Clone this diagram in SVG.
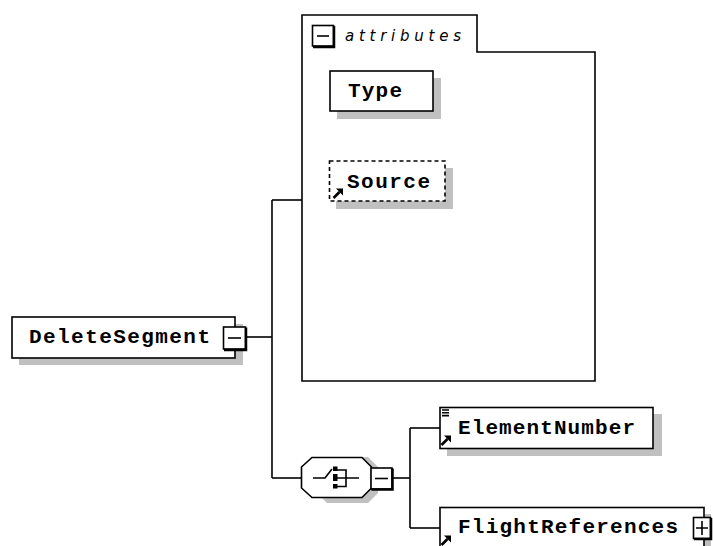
<svg xmlns="http://www.w3.org/2000/svg" width="713" height="546" viewBox="0 0 713 546">
<style>
.bg{fill:#ffffff}
.box{fill:#ffffff;stroke:#000;stroke-width:1.6}
.dash{fill:#ffffff;stroke:#000;stroke-width:1.6;stroke-dasharray:4,3}
.shadow{fill:#c0c0c0;stroke:none}
.lbl{font-family:"Liberation Mono","DejaVu Sans Mono",monospace;font-weight:bold;font-size:21px;fill:#000}
.attr{font-family:"DejaVu Sans","Liberation Sans",sans-serif;font-style:italic;font-size:15px;fill:#000}
.ln{fill:none;stroke:#000;stroke-width:1.6}
.btn{fill:#ffffff;stroke:#000;stroke-width:1.6}
.thick{fill:none;stroke:#000;stroke-width:2.5}
.ico{fill:#000;stroke:none}
.arr{fill:none;stroke:#000;stroke-width:2.6}
</style>
<defs>
<g id="arrowIcon">
<path d="M0.5,10 L6.5,4" class="arr"/>
<path d="M3,0.5 L10,0.5 L10,7.5 Z" class="ico"/>
</g>
</defs>
<rect class="bg" x="0" y="0" width="713" height="546"/>

<g id="connectors">
<path class="ln" d="M247,337 H272"/>
<path class="ln" d="M272,200 V478"/>
<path class="ln" d="M272,200 H302"/>
<path class="ln" d="M272,478 H301"/>
<path class="ln" d="M393,478 H410"/>
<path class="ln" d="M410,428 V528"/>
<path class="ln" d="M410,428 H440"/>
<path class="ln" d="M410,528 H440"/>
</g>

<g id="attributes">
<path class="box" d="M302,15 H477 V52 H595 V381 H302 Z"/>
<rect class="btn" x="312.5" y="25.5" width="21" height="20.5"/>
<path class="thick" d="M334,26 V47 H313"/>
<path class="ln" d="M317,36 H329"/>
<text class="attr" x="345" y="41" textLength="116" lengthAdjust="spacing">attributes</text>
</g>

<g id="Type">
<rect class="shadow" x="337" y="78" width="104" height="41"/>
<rect class="box" x="330" y="71" width="103" height="40"/>
<text class="lbl" x="348" y="97" textLength="54" lengthAdjust="spacing">Type</text>
</g>

<g id="Source">
<rect class="shadow" x="336" y="168" width="117" height="41"/>
<rect class="dash" x="329.5" y="161" width="115.5" height="40"/>
<use href="#arrowIcon" x="333" y="188"/>
<text class="lbl" x="347" y="188" textLength="83" lengthAdjust="spacing">Source</text>
</g>

<g id="DeleteSegment">
<rect class="shadow" x="19" y="324" width="224" height="41"/>
<rect class="box" x="12" y="317" width="223" height="41"/>
<text class="lbl" x="29" y="343" textLength="181" lengthAdjust="spacing">DeleteSegment</text>
<rect class="btn" x="223.5" y="327" width="22" height="22"/>
<path class="thick" d="M246,327.5 V350 H224"/>
<path class="ln" d="M228,338 H241"/>
</g>

<g id="choice">
<path class="shadow" d="M317,467 L327,457 H368 L378,467 V493 L368,503 H327 L317,493 Z"/>
<path class="box" d="M301.5,467 L312,457.5 H362 L371.5,467 V488 L362,497.5 H312 L301.5,488 Z"/>
<path class="ln" d="M313,478 H325 L332,469"/>
<rect class="ico" x="333" y="466.5" width="4.5" height="4.5"/>
<rect class="ico" x="333" y="474" width="4.5" height="7"/>
<rect class="ico" x="333" y="484" width="4.5" height="4.5"/>
<path class="ln" d="M337,470 H346 V486.5 H337 M337,478 H359"/>
<rect class="btn" x="371" y="468" width="21" height="21"/>
<path class="thick" d="M392.5,468.5 V489.5 H371.5"/>
<path class="ln" d="M375,478.5 H388"/>
</g>

<g id="ElementNumber">
<rect class="shadow" x="447" y="414" width="215" height="42"/>
<rect class="box" x="440" y="407.5" width="213" height="41"/>
<path class="ln" d="M442,410 H449 M442,412.8 H449 M442,415.6 H449" stroke-width="1.2"/>
<use href="#arrowIcon" x="441" y="435"/>
<text class="lbl" x="458" y="434" textLength="177" lengthAdjust="spacing">ElementNumber</text>
</g>

<g id="FlightReferences">
<rect class="shadow" x="447" y="514" width="264" height="40"/>
<rect class="box" x="440" y="507.5" width="264" height="41"/>
<use href="#arrowIcon" x="441" y="535"/>
<text class="lbl" x="458" y="533" textLength="220" lengthAdjust="spacing">FlightReferences</text>
<rect class="btn" x="693.5" y="517.5" width="17" height="21"/>
<path class="thick" d="M711,518 V539 H694"/>
<path class="ln" d="M696,528 H708 M702,521 V535"/>
</g>
</svg>
